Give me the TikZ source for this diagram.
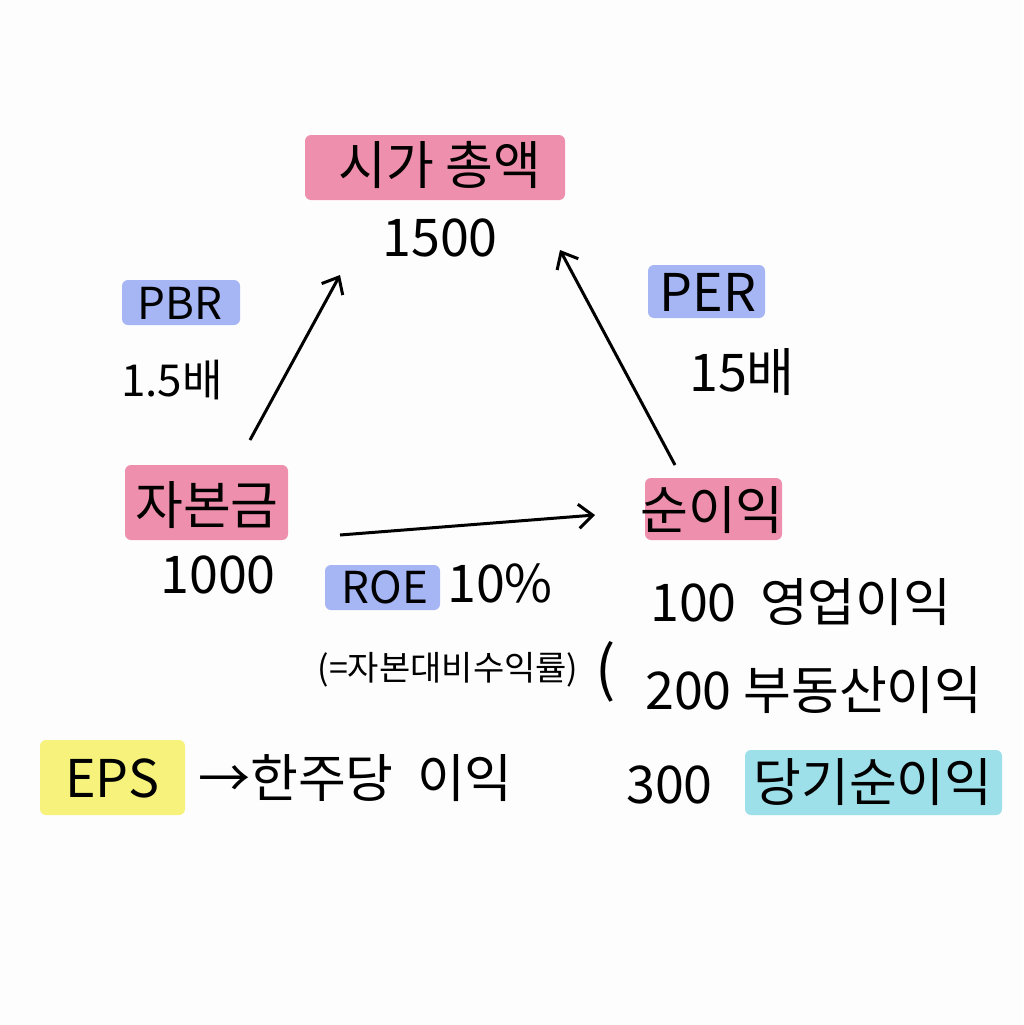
\documentclass[tikz,border=0pt]{standalone}
\usepackage{fontspec}
\usetikzlibrary{arrows.meta}
\setmainfont{Noto Sans CJK KR}
\definecolor{pinkh}{HTML}{EF8FAE}
\definecolor{blueh}{HTML}{A6B6F4}
\definecolor{cyanh}{HTML}{9DE0EA}
\definecolor{yelh}{HTML}{F6F27C}
\begin{document}
\begin{tikzpicture}[x=1pt,y=-1pt,
  hl/.style={rounded corners=6pt,inner sep=0pt},
  txt/.style={font=\fontsize{52}{52}\selectfont,inner sep=0pt},
  stxt/.style={font=\fontsize{44}{44}\selectfont,inner sep=0pt},
  arr/.style={line width=3pt,-{Straight Barb[length=14pt,width=24pt]}}]
\useasboundingbox[fill={rgb,255:red,253;green,253;blue,253}] (0,0) rectangle (1023,1025);
% highlights
\fill[pinkh,hl] (305,135) rectangle (565,200);
\fill[blueh,hl] (122,280) rectangle (240,325);
\fill[blueh,hl] (648,265) rectangle (765,318);
\fill[pinkh,hl] (125,465) rectangle (288,540);
\fill[pinkh,hl] (645,478) rectangle (782,540);
\fill[blueh,hl] (325,565) rectangle (440,610);
\fill[cyanh,hl] (745,750) rectangle (1002,815);
\fill[yelh,hl] (40,740) rectangle (185,815);
% texts
\node[txt] (mc) at (440,165) {시가 총액};
\node[txt] (mcv) at (440,238) {1500};
\node[stxt] (pbr) at (180,303) {PBR};
\node[stxt] (pbrv) at (172,380) {1.5배};
\node[txt] (per) at (708,292) {PER};
\node[txt] (perv) at (742,372) {15배};
\node[txt] (cap) at (207,505) {자본금};
\node[txt] (capv) at (218,575) {1000};
\node[txt] (ni) at (712,510) {순이익};
\node[stxt] (roe) at (385,587) {ROE};
\node[txt] (roev) at (500,583) {10\%};
\node[font=\fontsize{34}{34}\selectfont,inner sep=0pt] (roed) at (448,670) {(=자본대비수익률)};
\node[font=\fontsize{60}{60}\selectfont,inner sep=0pt] (br) at (606,672) {(};
\node[txt,anchor=west] (l1) at (650,602) {100\ \ 영업이익};
\node[txt,anchor=west] (l2) at (645,690) {200 부동산이익};
\node[txt,anchor=west] (l3) at (626,785) {300};
\node[txt] (net) at (873,782) {당기순이익};
\node[txt] (eps) at (112,778) {EPS};
\node[txt,anchor=west] (epsd) at (198,778) {→한주당\ \ 이익};
% arrows
\coordinate (a1) at (250,440); \coordinate (a2) at (340,275);
\coordinate (b1) at (675,465); \coordinate (b2) at (560,250);
\coordinate (c1) at (340,535); \coordinate (c2) at (595,515);
\draw[arr] (a1) -- (a2);
\draw[arr] (b1) -- (b2);
\draw[arr] (c1) -- (c2);
\end{tikzpicture}
\end{document}
